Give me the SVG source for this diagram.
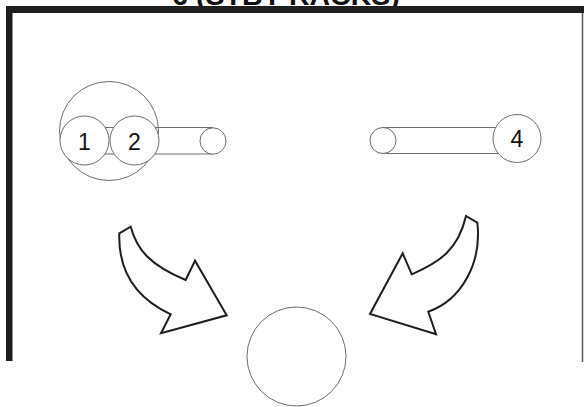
<svg xmlns="http://www.w3.org/2000/svg" width="584" height="407" viewBox="0 0 584 407">
<style>
  .ring { fill: none; stroke: #6e6e6e; stroke-width: 1; }
  .disc { fill: #fff; stroke: #6e6e6e; stroke-width: 1; }
  .tube { stroke: #6e6e6e; stroke-width: 1; fill: none; }
  .lbl { font-family: "Liberation Sans", Arial, sans-serif; font-size: 23px; fill: #111; text-anchor: middle; }
  .title { font-family: "Liberation Sans", Arial, sans-serif; font-size: 28.5px; font-weight: bold; fill: #111; text-anchor: middle; }
  .arrow { fill: #fff; stroke: #1e1e1e; stroke-width: 2; stroke-linejoin: miter; }
</style>
<rect x="0" y="0" width="584" height="407" fill="#fff"/>
<g id="frame">
  <text class="title" x="286" y="5">6 (STBY RACKS)</text>
  <rect x="6" y="6" width="578" height="7" fill="#1e1e1e"/>
  <rect x="6" y="6" width="6.5" height="355" fill="#1e1e1e"/>
  <line x1="582.5" y1="13" x2="582.5" y2="362" stroke="#555" stroke-width="1.5"/>
</g>
<g id="left-rack">
  <circle class="ring" cx="109" cy="131" r="49.5"/>
  <line class="tube" x1="86" y1="127.5" x2="213" y2="127.5"/>
  <line class="tube" x1="86" y1="154" x2="213" y2="154"/>
  <ellipse class="disc" cx="213" cy="141" rx="13" ry="13.2"/>
  <g id="node-1">
    <circle class="disc" cx="84.5" cy="140.5" r="24.5"/>
    <text class="lbl" x="84.5" y="149.5">1</text>
  </g>
  <g id="node-2">
    <circle class="disc" cx="134.5" cy="140.5" r="24.5"/>
    <text class="lbl" x="134.5" y="149.5">2</text>
  </g>
</g>
<g id="right-rack">
  <line class="tube" x1="383" y1="127.5" x2="517" y2="127.5"/>
  <line class="tube" x1="383" y1="153.5" x2="517" y2="153.5"/>
  <ellipse class="disc" cx="383" cy="140.5" rx="13" ry="13"/>
  <g id="node-4">
    <circle class="disc" cx="517" cy="138.5" r="24"/>
    <text class="lbl" x="517" y="147">4</text>
  </g>
</g>
<g id="node-target">
  <circle class="ring" cx="296.5" cy="356.5" r="49.5"/>
</g>
<g id="connectors">
  <path class="arrow" d="M119.3,233.3 L130.7,226.7 C137,250 150,265 185.7,280 L195,260.7 L226.7,315.3 L161,333.3 L170.7,314.3 C140,300 118,275 119.3,233.3 Z"/>
  <path class="arrow" d="M477.3,222.7 L466,216 C458,250 440,262 411.7,274.3 L402.7,253.3 L370,314 L436,334.3 L428.3,311.7 C462,300 482,262 477.3,222.7 Z"/>
</g>
</svg>
